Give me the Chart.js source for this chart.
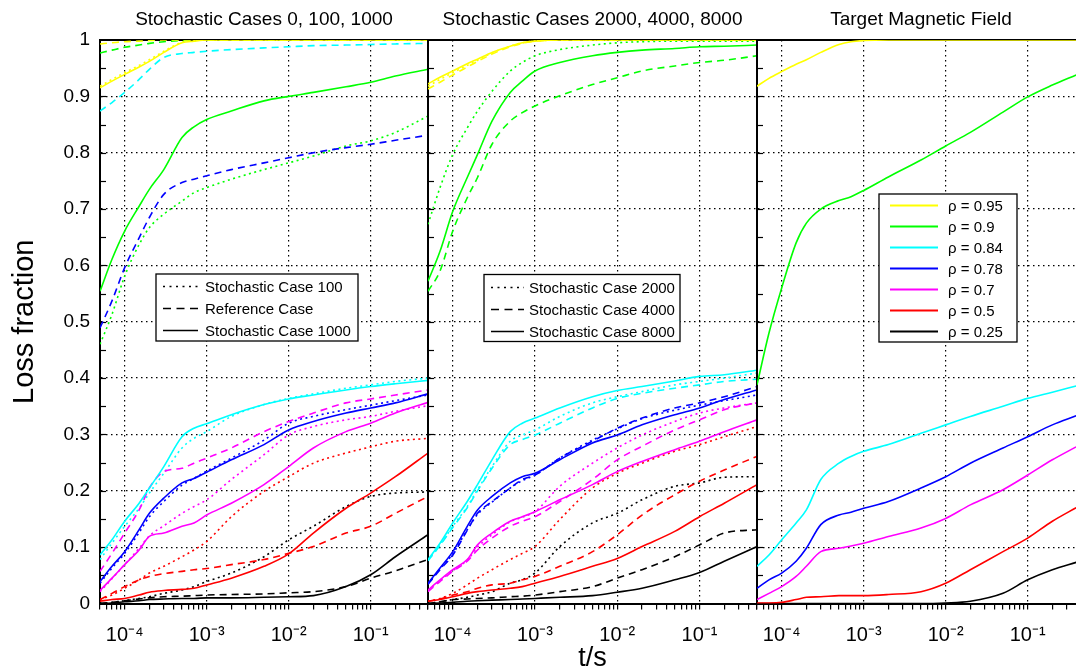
<!DOCTYPE html>
<html>
<head>
<meta charset="utf-8">
<script src="https://cdn.jsdelivr.net/npm/chart.js@4.4.0/dist/chart.umd.min.js"></script>
<style>
  html, body { margin: 0; padding: 0; background: #fff; overflow: hidden; }
  #wrap { position: relative; width: 1076px; height: 669px; overflow: hidden; }
  #wrap canvas { position: absolute; left: 0; top: 0; }
</style>
</head>
<body>
<div id="wrap">
  <canvas id="c1" width="1076" height="669"></canvas>
  <canvas id="c2" width="1076" height="669"></canvas>
  <canvas id="c3" width="1100" height="669"></canvas>
</div>
<script>
// time samples (s)
const tGrid   = [5e-5, 7e-5, 1e-4, 1.5e-4, 2e-4, 3e-4, 5e-4, 7e-4, 1e-3, 2e-3, 5e-3, 1e-2, 2e-2, 5e-2, 1e-1, 2e-1, 5e-1];
const tTarget = [5e-5, 7e-5, 1e-4, 1.5e-4, 2e-4, 3e-4, 5e-4, 7e-4, 1e-3, 2e-3, 5e-3, 1e-2, 2e-2, 5e-2, 1e-1, 2e-1, 0.39];

const decadeTicks  = [1e-4, 1e-3, 1e-2, 1e-1];
const decadeLabels = ['10\u207B\u2074', '10\u207B\u00B3', '10\u207B\u00B2', '10\u207B\u00B9'];
const yInnerTicks  = [0.05, 0.1, 0.15, 0.2, 0.25, 0.3, 0.35, 0.4, 0.45, 0.5, 0.55, 0.6, 0.65, 0.7, 0.75, 0.8, 0.85, 0.9, 0.95];

const rhoLabels = ['\u03C1 = 0.95', '\u03C1 = 0.9', '\u03C1 = 0.84', '\u03C1 = 0.78', '\u03C1 = 0.7', '\u03C1 = 0.5', '\u03C1 = 0.25'];
const rhoColors = ['#ffff00', '#00ff00', '#00ffff', '#0000ff', '#ff00ff', '#ff0000', '#000000'];

// panel 1 - stochastic case 100 (dotted)
const c100_095 = [0.918, 0.930, 0.942, 0.955, 0.965, 0.980, 0.996, 0.999, 1, 1, 1, 1, 1, 1, 1, 1, 1];
const c100_090 = [0.460, 0.513, 0.581, 0.637, 0.667, 0.691, 0.714, 0.729, 0.738, 0.753, 0.770, 0.782, 0.794, 0.812, 0.821, 0.836, 0.865];
const c100_084 = [0.078, 0.107, 0.137, 0.169, 0.196, 0.231, 0.276, 0.293, 0.305, 0.332, 0.353, 0.364, 0.372, 0.382, 0.388, 0.394, 0.400];
const c100_078 = [0.036, 0.063, 0.089, 0.126, 0.154, 0.181, 0.210, 0.222, 0.235, 0.258, 0.290, 0.320, 0.332, 0.344, 0.352, 0.360, 0.370];
const c100_070 = [0.021, 0.044, 0.069, 0.098, 0.120, 0.138, 0.160, 0.172, 0.184, 0.220, 0.264, 0.299, 0.314, 0.326, 0.332, 0.341, 0.351];
const c100_050 = [0.007, 0.015, 0.027, 0.042, 0.054, 0.066, 0.083, 0.095, 0.110, 0.154, 0.199, 0.225, 0.249, 0.267, 0.278, 0.288, 0.293];
const c100_025 = [0, 0.002, 0.005, 0.009, 0.012, 0.018, 0.024, 0.030, 0.039, 0.054, 0.083, 0.113, 0.137, 0.172, 0.190, 0.196, 0.198];

// panel 1 - reference case (dashed)
const ref_095 = [0.993, 0.995, 0.997, 0.998, 0.999, 1, 1, 1, 1, 1, 1, 1, 1, 1, 1, 1, 1];
const ref_090 = [0.977, 0.982, 0.987, 0.991, 0.994, 0.997, 0.999, 1, 1, 1, 1, 1, 1, 1, 1, 1, 1];
const ref_084 = [0.874, 0.889, 0.907, 0.930, 0.948, 0.969, 0.976, 0.978, 0.980, 0.983, 0.986, 0.988, 0.990, 0.991, 0.992, 0.993, 0.994];
const ref_078 = [0.489, 0.537, 0.596, 0.649, 0.685, 0.726, 0.747, 0.753, 0.759, 0.770, 0.782, 0.791, 0.800, 0.809, 0.815, 0.822, 0.831];
const ref_070 = [0.057, 0.089, 0.125, 0.166, 0.205, 0.234, 0.240, 0.249, 0.258, 0.276, 0.305, 0.323, 0.338, 0.356, 0.363, 0.370, 0.379];
const ref_050 = [0.007, 0.018, 0.030, 0.042, 0.048, 0.053, 0.057, 0.060, 0.062, 0.069, 0.078, 0.089, 0.101, 0.125, 0.137, 0.160, 0.190];
const ref_025 = [0, 0.002, 0.005, 0.008, 0.010, 0.012, 0.013, 0.014, 0.015, 0.016, 0.017, 0.019, 0.021, 0.030, 0.045, 0.058, 0.078];

// panel 1 - stochastic case 1000 (solid)
const c1000_095 = [0.915, 0.927, 0.939, 0.952, 0.962, 0.978, 0.995, 0.998, 1, 1, 1, 1, 1, 1, 1, 1, 1];
const c1000_090 = [0.554, 0.611, 0.661, 0.705, 0.735, 0.770, 0.827, 0.846, 0.859, 0.874, 0.892, 0.900, 0.907, 0.917, 0.925, 0.936, 0.948];
const c1000_084 = [0.086, 0.113, 0.146, 0.178, 0.205, 0.243, 0.296, 0.311, 0.319, 0.335, 0.353, 0.363, 0.370, 0.379, 0.385, 0.390, 0.396];
const c1000_078 = [0.039, 0.066, 0.092, 0.131, 0.160, 0.187, 0.214, 0.222, 0.233, 0.255, 0.282, 0.308, 0.323, 0.338, 0.347, 0.356, 0.372];
const c1000_070 = [0.023, 0.045, 0.069, 0.095, 0.119, 0.125, 0.137, 0.143, 0.157, 0.178, 0.211, 0.243, 0.276, 0.305, 0.320, 0.338, 0.357];
const c1000_050 = [0.004, 0.007, 0.009, 0.015, 0.020, 0.023, 0.025, 0.027, 0.033, 0.045, 0.066, 0.088, 0.125, 0.169, 0.196, 0.225, 0.267];
const c1000_025 = [0, 0.001, 0.003, 0.005, 0.007, 0.008, 0.009, 0.009, 0.010, 0.010, 0.011, 0.012, 0.014, 0.030, 0.051, 0.083, 0.122];

// panel 2 - stochastic case 2000 (dotted)
const c2000_095 = [0.918, 0.930, 0.942, 0.955, 0.964, 0.977, 0.989, 0.995, 0.998, 1, 1, 1, 1, 1, 1, 1, 1];
const c2000_090 = [0.673, 0.738, 0.797, 0.844, 0.874, 0.909, 0.945, 0.960, 0.972, 0.983, 0.991, 0.995, 0.997, 0.998, 0.998, 0.998, 0.998];
const c2000_084 = [0.077, 0.104, 0.137, 0.172, 0.202, 0.243, 0.288, 0.299, 0.308, 0.332, 0.356, 0.367, 0.376, 0.388, 0.394, 0.400, 0.409];
const c2000_078 = [0.035, 0.061, 0.088, 0.131, 0.158, 0.180, 0.205, 0.218, 0.228, 0.258, 0.290, 0.310, 0.328, 0.343, 0.352, 0.360, 0.370];
const c2000_070 = [0.023, 0.041, 0.058, 0.077, 0.100, 0.122, 0.145, 0.153, 0.163, 0.208, 0.249, 0.276, 0.299, 0.323, 0.338, 0.347, 0.356];
const c2000_050 = [0.004, 0.009, 0.018, 0.033, 0.045, 0.060, 0.078, 0.089, 0.101, 0.149, 0.205, 0.231, 0.249, 0.270, 0.282, 0.296, 0.314];
const c2000_025 = [0, 0.003, 0.007, 0.011, 0.015, 0.021, 0.036, 0.042, 0.054, 0.101, 0.143, 0.160, 0.184, 0.208, 0.214, 0.224, 0.225];

// panel 2 - stochastic case 4000 (dashed)
const c4000_095 = [0.913, 0.925, 0.938, 0.952, 0.962, 0.975, 0.988, 0.994, 0.998, 1, 1, 1, 1, 1, 1, 1, 1];
const c4000_090 = [0.554, 0.590, 0.661, 0.720, 0.756, 0.815, 0.856, 0.871, 0.883, 0.901, 0.921, 0.933, 0.945, 0.954, 0.960, 0.964, 0.972];
const c4000_084 = [0.076, 0.103, 0.135, 0.170, 0.200, 0.240, 0.282, 0.291, 0.299, 0.320, 0.347, 0.364, 0.373, 0.382, 0.388, 0.394, 0.398];
const c4000_078 = [0.034, 0.060, 0.086, 0.130, 0.160, 0.181, 0.205, 0.220, 0.228, 0.258, 0.288, 0.311, 0.329, 0.347, 0.356, 0.367, 0.385];
const c4000_070 = [0.021, 0.039, 0.057, 0.075, 0.095, 0.116, 0.137, 0.146, 0.154, 0.181, 0.220, 0.255, 0.279, 0.308, 0.326, 0.344, 0.356];
const c4000_050 = [0.004, 0.008, 0.015, 0.021, 0.027, 0.033, 0.036, 0.042, 0.048, 0.066, 0.092, 0.122, 0.157, 0.193, 0.217, 0.237, 0.261];
const c4000_025 = [0, 0.003, 0.007, 0.008, 0.009, 0.010, 0.012, 0.013, 0.015, 0.021, 0.030, 0.045, 0.060, 0.083, 0.104, 0.125, 0.131];

// panel 2 - stochastic case 8000 (solid)
const c8000_095 = [0.922, 0.934, 0.945, 0.958, 0.966, 0.978, 0.989, 0.995, 0.998, 1, 1, 1, 1, 1, 1, 1, 1];
const c8000_090 = [0.572, 0.625, 0.696, 0.756, 0.797, 0.856, 0.907, 0.927, 0.945, 0.960, 0.972, 0.978, 0.982, 0.985, 0.988, 0.989, 0.991];
const c8000_084 = [0.078, 0.107, 0.143, 0.181, 0.211, 0.255, 0.305, 0.320, 0.329, 0.347, 0.367, 0.378, 0.385, 0.395, 0.403, 0.406, 0.414];
const c8000_078 = [0.036, 0.063, 0.092, 0.137, 0.166, 0.190, 0.214, 0.225, 0.231, 0.255, 0.285, 0.299, 0.317, 0.335, 0.347, 0.362, 0.379];
const c8000_070 = [0.024, 0.042, 0.060, 0.078, 0.104, 0.125, 0.146, 0.154, 0.163, 0.184, 0.211, 0.234, 0.252, 0.273, 0.288, 0.305, 0.326];
const c8000_050 = [0.004, 0.007, 0.012, 0.018, 0.021, 0.024, 0.027, 0.030, 0.036, 0.048, 0.066, 0.080, 0.101, 0.128, 0.154, 0.178, 0.211];
const c8000_025 = [0, 0.001, 0.002, 0.004, 0.005, 0.006, 0.007, 0.008, 0.009, 0.011, 0.014, 0.020, 0.027, 0.042, 0.055, 0.075, 0.101];

// panel 3 - target magnetic field (solid)
const tgt_095 = [0.918, 0.932, 0.944, 0.957, 0.965, 0.978, 0.992, 0.997, 0.999, 1, 1, 1, 1, 1, 1, 1, 1];
const tgt_090 = [0.388, 0.480, 0.560, 0.640, 0.675, 0.700, 0.715, 0.722, 0.733, 0.757, 0.787, 0.812, 0.836, 0.872, 0.899, 0.920, 0.938];
const tgt_084 = [0.066, 0.086, 0.113, 0.143, 0.166, 0.220, 0.249, 0.261, 0.270, 0.282, 0.302, 0.317, 0.332, 0.350, 0.364, 0.375, 0.386];
const tgt_078 = [0.027, 0.042, 0.054, 0.075, 0.098, 0.140, 0.157, 0.162, 0.169, 0.181, 0.205, 0.225, 0.249, 0.276, 0.296, 0.317, 0.333];
const tgt_070 = [0.007, 0.018, 0.030, 0.048, 0.066, 0.092, 0.098, 0.102, 0.107, 0.119, 0.134, 0.151, 0.175, 0.202, 0.228, 0.255, 0.278];
const tgt_050 = [0.001, 0.001, 0.002, 0.007, 0.011, 0.012, 0.014, 0.014, 0.014, 0.016, 0.021, 0.036, 0.060, 0.092, 0.116, 0.146, 0.170];
const tgt_025 = [0, 0, 0, 0, 0, 0, 0, 0, 0, 0, 0, 0.001, 0.004, 0.018, 0.042, 0.060, 0.073];

const DOT = [2, 3.5];
const DASH = [7, 5];
const SOLID = [];

Chart.defaults.font.family = "'Liberation Sans', Arial, Helvetica, sans-serif";
Chart.defaults.color = '#000';

const xMin = 5e-5, xMax = 0.5;
// minor ticks: 1..9 x each decade inside the range
const xTickValues = [];
for (let e = -5; e <= -1; e++) {
  for (let m = 1; m <= 9; m++) {
    const v = parseFloat(m + 'e' + e);
    if (v >= xMin - 1e-12 && v <= xMax + 1e-12) xTickValues.push(v);
  }
}

function line(ts, ys, color, dash) {
  return {
    data: ts.map((t, i) => ({ x: t, y: ys[i] })),
    borderColor: color,
    borderDash: dash,
    borderWidth: 1.6,
    pointRadius: 0,
    fill: false,
    cubicInterpolationMode: 'monotone'
  };
}

function group(ts, arrs, dash) {
  return arrs.map((a, i) => line(ts, a, rhoColors[i], dash));
}

function xScale(showTitle) {
  return {
    type: 'logarithmic',
    min: xMin,
    max: xMax,
    afterBuildTicks: s => { s.ticks = xTickValues.map(v => ({ value: v })); },
    afterFit: s => { s.height = 65.5; },
    ticks: {
      autoSkip: false, maxRotation: 0, minRotation: 0, padding: 14,
      font: { size: 20 },
      callback: v => {
        const i = decadeTicks.findIndex(d => Math.abs(d - v) < d * 1e-6);
        return i < 0 ? '' : decadeLabels[i];
      }
    },
    grid: {
      color: c => (c.tick && decadeTicks.some(d => Math.abs(d - c.tick.value) < d * 1e-6)) ? '#000' : 'rgba(0,0,0,0)',
      lineWidth: 1.2,
      tickColor: '#000',
      tickLength: 6,
      tickWidth: 1.2
    },
    border: { color: '#000', width: 2, dash: [1.5, 3.5] },
    title: {
      display: showTitle, text: 't/s',
      font: { size: 27, lineHeight: 0.8 },
      padding: { top: 0, bottom: 0 }
    }
  };
}

function yScale(showLabels) {
  return {
    min: 0,
    max: 1,
    afterFit: s => { s.width = showLabels ? 100 : 0; },
    ticks: {
      display: showLabels, stepSize: 0.1, padding: 10, font: { size: 19 },
      callback: v => (v < 1e-9 ? '0' : v > 1 - 1e-9 ? '1' : v.toFixed(1))
    },
    grid: { color: '#000', lineWidth: 1.2, drawTicks: false },
    border: { color: '#000', width: 2, dash: [1.5, 3.5] },
    title: {
      display: showLabels, text: 'Loss fraction',
      font: { size: 29 },
      padding: { top: 8, bottom: 0 }
    }
  };
}

// top border and small inward ticks on the left axis
const framePlugin = {
  id: 'frame',
  beforeDatasetsDraw(chart) {
    const { ctx, chartArea: a, scales } = chart;
    ctx.save();
    ctx.strokeStyle = '#000';
    ctx.lineWidth = 2;
    ctx.beginPath();
    ctx.moveTo(a.left, a.top);
    ctx.lineTo(a.right, a.top);
    ctx.stroke();
    ctx.lineWidth = 1.2;
    yInnerTicks.forEach(v => {
      const py = Math.round(scales.y.getPixelForValue(v)) + 0.5;
      ctx.beginPath();
      ctx.moveTo(a.left, py);
      ctx.lineTo(a.left + 6, py);
      ctx.stroke();
    });
    ctx.restore();
  }
};

function boxLegend(o) {
  return {
    id: 'boxLegend',
    afterDraw(chart) {
      const { ctx, chartArea } = chart;
      const x = chartArea.left + o.left, y = chartArea.top + o.top;
      ctx.save();
      ctx.fillStyle = '#fff';
      ctx.fillRect(x, y, o.width, o.height);
      ctx.strokeStyle = '#000';
      ctx.lineWidth = 1.3;
      ctx.strokeRect(x, y, o.width, o.height);
      ctx.font = "15px 'Liberation Sans', Arial, sans-serif";
      ctx.textBaseline = 'middle';
      o.items.forEach((it, i) => {
        const cy = Math.round(y + o.first + i * o.step) + 0.5;
        ctx.beginPath();
        ctx.setLineDash(it.dash);
        ctx.strokeStyle = it.color;
        ctx.lineWidth = o.lineWidth;
        ctx.moveTo(x + o.lineFrom, cy);
        ctx.lineTo(x + o.lineTo, cy);
        ctx.stroke();
        ctx.setLineDash([]);
        ctx.fillStyle = '#000';
        ctx.fillText(it.label, x + o.textX, cy + 1);
      });
      ctx.restore();
    }
  };
}

function makeChart(id, title, datasets, pad, showY, showXTitle, legend) {
  return new Chart(document.getElementById(id), {
    type: 'line',
    data: { datasets },
    options: {
      responsive: false,
      animation: false,
      devicePixelRatio: 1,
      layout: { padding: pad },
      plugins: {
        legend: { display: false },
        tooltip: { enabled: false },
        title: {
          display: true, text: title, fullSize: false,
          font: { size: 19, weight: 'normal' },
          padding: { top: 8, bottom: 9.2 }
        }
      },
      scales: { x: xScale(showXTitle), y: yScale(showY) }
    },
    plugins: [framePlugin, boxLegend(legend)]
  });
}

const caseLegend = names => [
  { label: names[0], color: '#000', dash: [2, 4.5] },
  { label: names[1], color: '#000', dash: [8, 5.5] },
  { label: names[2], color: '#000', dash: SOLID }
];

makeChart('c1', 'Stochastic Cases 0, 100, 1000',
  [].concat(
    group(tGrid, [c1000_095, c1000_090, c1000_084, c1000_078, c1000_070, c1000_050, c1000_025], SOLID),
    group(tGrid, [ref_095, ref_090, ref_084, ref_078, ref_070, ref_050, ref_025], DASH),
    group(tGrid, [c100_095, c100_090, c100_084, c100_078, c100_070, c100_050, c100_025], DOT)
  ),
  { left: 0, right: 648, top: 0, bottom: 0 }, true, false,
  { left: 56, top: 234, width: 202, height: 67, first: 12, step: 22, lineFrom: 7, lineTo: 42, textX: 49, lineWidth: 1.5,
    items: caseLegend(['Stochastic Case 100', 'Reference Case', 'Stochastic Case 1000']) });

makeChart('c2', 'Stochastic Cases 2000, 4000, 8000',
  [].concat(
    group(tGrid, [c8000_095, c8000_090, c8000_084, c8000_078, c8000_070, c8000_050, c8000_025], SOLID),
    group(tGrid, [c4000_095, c4000_090, c4000_084, c4000_078, c4000_070, c4000_050, c4000_025], DASH),
    group(tGrid, [c2000_095, c2000_090, c2000_084, c2000_078, c2000_070, c2000_050, c2000_025], DOT)
  ),
  { left: 428, right: 319, top: 0, bottom: 0 }, false, true,
  { left: 56, top: 234.5, width: 196, height: 67, first: 12, step: 22, lineFrom: 7, lineTo: 40, textX: 45, lineWidth: 1.5,
    items: caseLegend(['Stochastic Case 2000', 'Stochastic Case 4000', 'Stochastic Case 8000']) });

makeChart('c3', 'Target Magnetic Field',
  group(tTarget, [tgt_095, tgt_090, tgt_084, tgt_078, tgt_070, tgt_050, tgt_025], SOLID),
  { left: 757, right: 15, top: 0, bottom: 0 }, false, false,
  { left: 122, top: 154, width: 138, height: 148, first: 10.5, step: 21, lineFrom: 11, lineTo: 59, textX: 69, lineWidth: 2,
    items: rhoLabels.map((l, i) => ({ label: l, color: rhoColors[i], dash: SOLID })) });
</script>
</body>
</html>
